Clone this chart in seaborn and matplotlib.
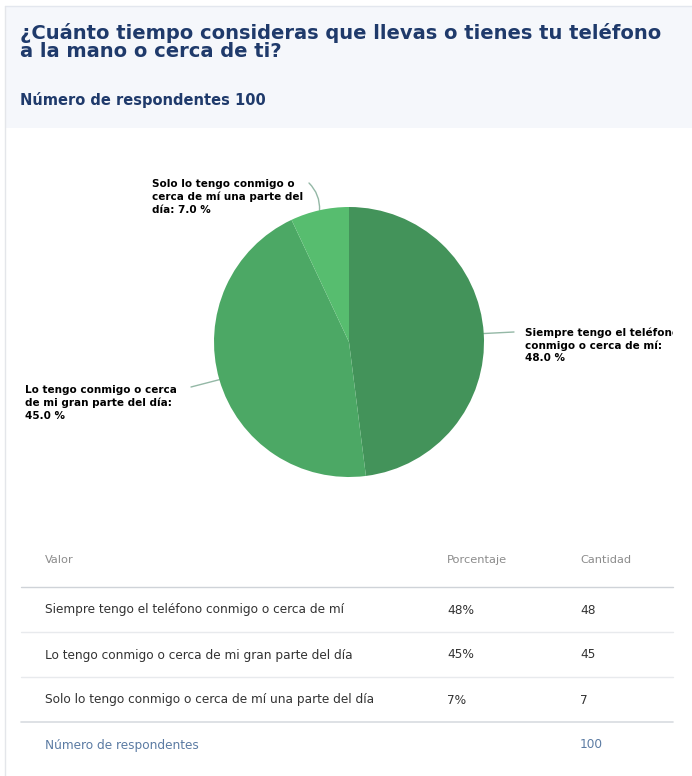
import numpy as np
import matplotlib
matplotlib.use("Agg")
import matplotlib.pyplot as plt
from matplotlib.patches import Rectangle
import seaborn as sns

# Survey data
categories = [
    "Siempre tengo el teléfono conmigo o cerca de mí",
    "Lo tengo conmigo o cerca de mi gran parte del día",
    "Solo lo tengo conmigo o cerca de mí una parte del día",
]
pie_labels = [
    "Siempre tengo el teléfono\nconmigo o cerca de mí:\n",
    "Lo tengo conmigo o cerca\nde mi gran parte del día:\n",
    "Solo lo tengo conmigo o\ncerca de mí una parte del\ndía: ",
]
percentages = [48.0, 45.0, 7.0]
counts = [48, 45, 7]
total_respondents = 100

title = "¿Cuánto tiempo consideras que llevas o tienes tu teléfono\na la mano o cerca de ti?"
subtitle = "Número de respondentes"
table_headers = ["Valor", "Porcentaje", "Cantidad"]

sns.set_theme(style="white")
plt.rcParams["font.family"] = ["DejaVu Sans"]

greens = ["#43935a", "#4ca865", "#57bd6f"]

W, H = 692, 776
fig = plt.figure(figsize=(W / 100, H / 100), dpi=100)
fig.patch.set_facecolor("white")

# Background layer in pixel coordinates (y grows downward)
bg = fig.add_axes([0, 0, 1, 1])
bg.set_xlim(0, W)
bg.set_ylim(H, 0)
bg.axis("off")

# Card header band and borders
bg.add_patch(Rectangle((5, 6), W - 5, 122, facecolor="#f5f7fb", edgecolor="none", zorder=0))
bg.plot([5, W], [6, 6], color="#e3e7ee", lw=1, zorder=1)
bg.plot([5, 5], [6, H], color="#e4e6ea", lw=1, zorder=1)

navy = "#1f3a6b"
bg.text(20, 23, title, fontsize=14, fontweight="bold", color=navy, va="top",
        linespacing=0.92)
bg.text(20, 105, f"{subtitle} {total_respondents}", fontsize=10.5, fontweight="bold",
        color=navy, va="baseline")

# Pie chart: radius 135 px centred at (349, 342)
cx, cy, r = 349, 342, 135
pax = fig.add_axes([(cx - r) / W, (H - cy - r) / H, 2 * r / W, 2 * r / H])
wedges, _ = pax.pie(percentages, colors=greens, startangle=90, counterclock=False,
                    radius=1, wedgeprops=dict(linewidth=0))
pax.set_xlim(-1, 1)
pax.set_ylim(-1, 1)
pax.set_aspect("equal")
pax.axis("off")

# Labels and their connectors
label_pos = [(525, 327), (25, 385), (152, 179)]
conn_end = [(514, 332), (191, 387), (309, 183)]
conn_rad = [0.0, 0.0, 0.22]
clip = Rectangle((0, 0), 673, H, transform=bg.transData, visible=False)
bg.add_patch(clip)
for w, lab, pct, (lx, ly), end, rad in zip(wedges, pie_labels, percentages,
                                           label_pos, conn_end, conn_rad):
    mid = np.deg2rad((w.theta1 + w.theta2) / 2)
    start = (np.cos(mid), np.sin(mid))
    start_px = bg.transData.inverted().transform(pax.transData.transform(start))
    bg.annotate("", xy=end, xytext=start_px, xycoords="data", textcoords="data",
                arrowprops=dict(arrowstyle="-", color="#94b8a6", lw=1,
                                connectionstyle=f"arc3,rad={rad}",
                                shrinkA=0, shrinkB=0), zorder=3)
    t = bg.text(lx, ly, f"{lab}{pct:.1f} %", fontsize=7.5, fontweight="bold",
                color="black", ha="left", va="top", linespacing=1.32, zorder=4)
    t.set_clip_path(clip)
    t.set_clip_on(True)

# Data table
col_x = [45, 447, 580]
head_color = "#8c8c8c"
body_color = "#333333"
foot_color = "#5b7ba3"
for x, h in zip(col_x, table_headers):
    bg.text(x, 560, h, fontsize=8.2, color=head_color, va="center")
bg.plot([21, 673], [587, 587], color="#cfd3d8", lw=1)

row_y = [610, 655, 700]
for y, cat, pct, cnt in zip(row_y, categories, percentages, counts):
    bg.text(col_x[0], y, cat, fontsize=8.7, color=body_color, va="center")
    bg.text(col_x[1], y, f"{pct:.0f}%", fontsize=8.7, color=body_color, va="center")
    bg.text(col_x[2], y, f"{cnt}", fontsize=8.7, color=body_color, va="center")
for y in [632, 677]:
    bg.plot([21, 673], [y, y], color="#e8eaed", lw=1)
bg.plot([21, 673], [722, 722], color="#d8dbe0", lw=1.2)

bg.text(col_x[0], 745, subtitle, fontsize=8.7, color=foot_color, va="center")
bg.text(col_x[2], 745, f"{total_respondents}", fontsize=8.7, color=foot_color, va="center")

fig.savefig("out.png", dpi=100, facecolor="white")
